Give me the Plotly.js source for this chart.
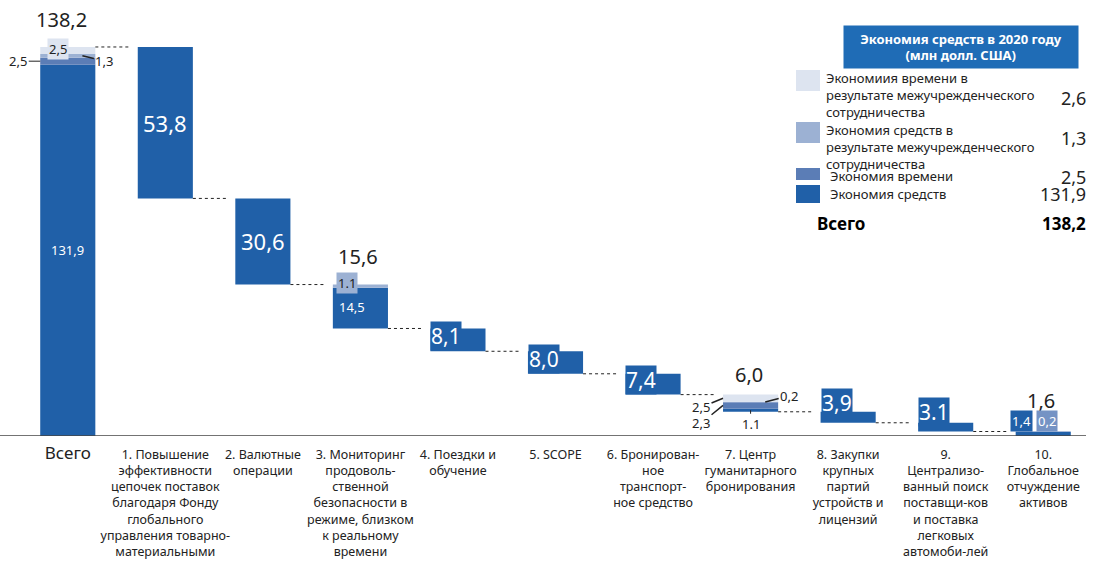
<!DOCTYPE html>
<html>
<head>
<meta charset="utf-8">
<script src="https://cdn.plot.ly/plotly-3.0.1.min.js"></script>
<style>html,body{margin:0;padding:0;background:#fff;}#chart{width:1098px;height:561px;}</style>
</head>
<body>
<div id="chart"></div>
<script>
// ---------- DATA ----------
const categories = [
  "Всего",
  "1. Повышение<br>эффективности<br>цепочек поставок<br>благодаря Фонду<br>глобального<br>управления товарно-<br>материальными",
  "2. Валютные<br>операции",
  "3. Мониторинг<br>продоволь-<br>ственной<br>безопасности в<br>режиме, близком<br>к реальному<br>времени",
  "4. Поездки и<br>обучение",
  "5. SCOPE",
  "6. Бронирован-<br>ное<br>транспорт-<br>ное средство",
  "7. Центр<br>гуманитарного<br>бронирования",
  "8. Закупки<br>крупных<br>партий<br>устройств и<br>лицензий",
  "9.<br>Централизо-<br>ванный поиск<br>поставщи-ков<br>и поставка<br>легковых<br>автомоби-лей",
  "10.<br>Глобальное<br>отчуждение<br>активов"
];
// components per bar (index 0 = total bar)
const costSavings      = [131.9, 53.8, 30.6, 14.5, 8.1, 8.0, 7.4, 1.1, 3.9, 3.1, 1.4];
const timeSavings      = [2.5,   0,    0,    0,    0,   0,   0,   2.3, 0,   0,   0.2];
const interCostSavings = [1.3,   0,    0,    1.1,  0,   0,   0,   0.2, 0,   0,   0];
const interTimeSavings = [2.5,   0,    0,    0,    0,   0,   0,   2.5, 0,   0,   0];

const costLabels  = ["131,9", "53,8", "30,6", "14,5", "8,1", "8,0", "7,4", "1.1", "3,9", "3.1", "1,4"];
const topLabels   = ["138,2", "", "", "15,6", "", "", "", "6,0", "", "", "1,6"];

const legendTitle  = "Экономия средств в 2020 году<br>(млн долл. США)";
const legendNames  = [
  "Экономиия времени в<br>результате межучрежденческого<br>сотрудничества",
  "Экономия средств в<br>результате межучрежденческого<br>сотрудничества",
  "Экономия времени",
  "Экономия средств"
];
const legendValues = ["2,6", "1,3", "2,5", "131,9"];
const totalName  = "Всего";
const totalValue = "138,2";

// ---------- STYLE ----------
const C_COST = "#2060a8", C_TIME = "#5b7db6", C_ICOST = "#9cb1d3", C_ITIME = "#dde4f0";
const C_TIME_LBL = "#7593c4";
const C_TITLE = "#1f6cb6";
const FONT = "Noto Sans, Open Sans, sans-serif";
const W = 0.565;
const ML = 19, MR = 6, MT = 10, MB = 125, FW = 1098, FH = 561;
const PW = FW - ML - MR, PH = FH - MT - MB;
const PX = x => (x - ML) / PW;
const PY = y => (FH - MB - y) / PH;

// ---------- GEOMETRY FROM DATA ----------
const series = [costSavings, timeSavings, interCostSavings, interTimeSavings];
const n = categories.length;
const sums = categories.map((_, i) => series.reduce((a, s) => a + s[i], 0));
const bottoms = [], tops = [];
let level = sums[0];
for (let i = 0; i < n; i++) {
  if (i === 0) { bottoms.push(0); tops.push(sums[0]); }
  else { tops.push(level); level = level - sums[i]; bottoms.push(level); }
}
const xs = categories.map((_, i) => i);
function baseOf(k, i) { let b = bottoms[i]; for (let j = 0; j < k; j++) b += series[j][i]; return b; }

const colors = [C_COST, C_TIME, C_ICOST, C_ITIME];
const traces = series.map((s, k) => ({
  type: "bar", x: xs, y: s, base: xs.map(i => baseOf(k, i)), width: W,
  marker: {color: colors[k], line: {width: 0}}, showlegend: false, hoverinfo: "skip"
}));

// connectors
for (let i = 0; i < n - 1; i++) {
  const yv = i === 0 ? tops[0] : bottoms[i];
  traces.push({type: "scatter", mode: "lines", x: [i + W / 2, i + 1 - W / 2 - 0.08], y: [yv, yv],
    line: {color: "#222", width: 1, dash: "dot"}, showlegend: false, hoverinfo: "skip"});
}

// ---------- ANNOTATIONS ----------
const ann = [];
function A(o) { ann.push(Object.assign({showarrow: false, xanchor: "center", yanchor: "middle", font: {family: FONT, size: 13, color: "#222"}}, o)); }
const white = (s) => ({family: FONT, size: s, color: "#fff"});
const dark = (s) => ({family: FONT, size: s, color: "#222"});

// labels above bars
topLabels.forEach((t, i) => {
  if (!t) return;
  const sh = {0: 12, 3: 13, 7: 5, 10: 16}[i];
  A({x: i, y: tops[i], text: t, yanchor: "bottom", yshift: sh, xshift: i === 0 ? -6 : -2, font: dark(20)});
});
// total bar
A({x: 0, y: (bottoms[0] + costSavings[0] / 2), text: costLabels[0], font: white(13)});
A({x: 0 - W / 2, y: tops[0], text: "2,5", xanchor: "left", yanchor: "middle", xshift: 7, yshift: -2,
   bgcolor: C_ITIME, borderpad: 1, font: dark(13)});
A({x: 0 - W / 2, y: baseOf(1, 0) + timeSavings[0] / 2, text: "2,5", showarrow: true, arrowhead: 0,
   arrowwidth: 1, arrowcolor: "#222", ax: -22, ay: 0, xanchor: "auto", yanchor: "auto", font: dark(13)});
A({x: 0.15, y: baseOf(2, 0) + interCostSavings[0] / 2, text: "1,3", showarrow: true, arrowhead: 0,
   arrowwidth: 1.5, arrowcolor: "#222", ax: 22, ay: 5, xanchor: "auto", yanchor: "auto", font: dark(13)});
// bars 1,2 centered big
[1, 2].forEach(i => A({x: i, y: (tops[i] + bottoms[i]) / 2, text: costLabels[i], font: white(22)}));
// bar 3
A({x: 3 - W / 2, y: baseOf(1, 3), text: costLabels[3], xanchor: "left", yanchor: "top", xshift: 4, yshift: -8, font: white(13)});
A({x: 3 - W / 2, y: tops[3], text: "1.1", xanchor: "left", yanchor: "middle", xshift: 3, yshift: 2,
   bgcolor: C_ICOST, borderpad: 1, font: dark(13)});
// box labels bars 4-6, 8, 9
[4, 5, 6, 8, 9].forEach(i => {
  A({x: i - W / 2, y: bottoms[i], text: costLabels[i], xanchor: "left", yanchor: "bottom",
     yshift: i >= 8 ? 5 : 0, bgcolor: C_COST, borderpad: 0, font: white(21)});
});
// bar 7
const arr = {showarrow: true, arrowhead: 0, arrowcolor: "#222", xanchor: "auto", yanchor: "auto"};
A(Object.assign({}, arr, {x: 7, y: bottoms[7] + costSavings[7] / 2, text: costLabels[7], arrowwidth: 1, ax: 0, ay: 14, font: dark(13)}));
A(Object.assign({}, arr, {x: 7 - W / 2, y: baseOf(3, 7) + 1.2, text: "2,5", arrowwidth: 1.5, ax: -22, ay: 9, font: dark(13)}));
A(Object.assign({}, arr, {x: 7 - W / 2, y: baseOf(1, 7) + 1.2, text: "2,3", arrowwidth: 1.5, ax: -22, ay: 18, font: dark(13)}));
A(Object.assign({}, arr, {x: 7 + 0.15, y: baseOf(2, 7) + 0.1, text: "0,2", arrowwidth: 1.5, ax: 24, ay: -6, font: dark(13)}));
// bar 10
A({x: 10 - W / 2, y: bottoms[10], text: costLabels[10], xanchor: "left", yanchor: "bottom", xshift: -6, yshift: 4,
   bgcolor: C_COST, borderpad: 1, font: white(13)});
A({x: 10 - W / 2, y: bottoms[10], text: "0,2", xanchor: "left", yanchor: "bottom", xshift: 20, yshift: 4,
   bgcolor: C_TIME_LBL, borderpad: 1, font: white(13)});

// ---------- LEGEND ----------
const P = {xref: "paper", yref: "paper"};
A(Object.assign({}, P, {x: PX(961), y: PY(47), text: "<b>" + legendTitle + "</b>", width: 232, height: 40,
   bgcolor: C_TITLE, font: white(13)}));
const legSq = [[70, 91], [122, 143], [168, 180], [185, 203]];
const legTextY = [95, 147, 176, 194];
const legValY = [98, 138, 177, 194];
const legColors = [C_ITIME, C_ICOST, C_TIME, C_COST];
const shapes = [];
legendNames.forEach((nm, k) => {
  shapes.push({type: "rect", xref: "paper", yref: "paper", x0: PX(796), x1: PX(820), y0: PY(legSq[k][1]), y1: PY(legSq[k][0]),
    fillcolor: legColors[k], line: {width: 0}});
  A(Object.assign({}, P, {x: PX(k < 2 ? 824 : 828), y: PY(legTextY[k]), text: nm, xanchor: "left", yanchor: "middle", align: "left", font: dark(13)}));
  A(Object.assign({}, P, {x: PX(1088), y: PY(legValY[k]), text: legendValues[k], xanchor: "right", yanchor: "middle", font: dark(18)}));
});
A(Object.assign({}, P, {x: PX(815), y: PY(223), text: "<b>" + totalName + "</b>", xanchor: "left", yanchor: "middle", font: {family: FONT, size: 17, color: "#000"}}));
A(Object.assign({}, P, {x: PX(1088), y: PY(223), text: "<b>" + totalValue + "</b>", xanchor: "right", yanchor: "middle", font: {family: FONT, size: 17, color: "#000"}}));

// axis line
shapes.push({type: "line", xref: "paper", yref: "y", x0: PX(0), x1: PX(1086), y0: 0, y1: 0, line: {color: "#444", width: 1.5}});

const tickText = categories.map((c, i) => i === 0 ? '<span style="font-size:17px">' + c + '</span>' : c);

const layout = {
  width: FW, height: FH,
  margin: {l: ML, r: MR, t: MT, b: MB},
  paper_bgcolor: "#fff", plot_bgcolor: "#fff",
  barmode: "overlay",
  font: {family: FONT, size: 12, color: "#222"},
  xaxis: {range: [-0.5, 10.5], tickmode: "array", tickvals: xs, ticktext: tickText, tickangle: 0, automargin: false,
          ticklabelstandoff: 9,
          showgrid: false, zeroline: false, showline: false, ticks: "", tickfont: {family: FONT, size: 12.5, color: "#222"}, fixedrange: true},
  yaxis: {range: [0, PH / 2.815], showticklabels: false, showgrid: false, zeroline: false, showline: false, fixedrange: true},
  annotations: ann,
  shapes: shapes
};
Plotly.newPlot("chart", traces, layout, {displayModeBar: false, staticPlot: true});
</script>
</body>
</html>
